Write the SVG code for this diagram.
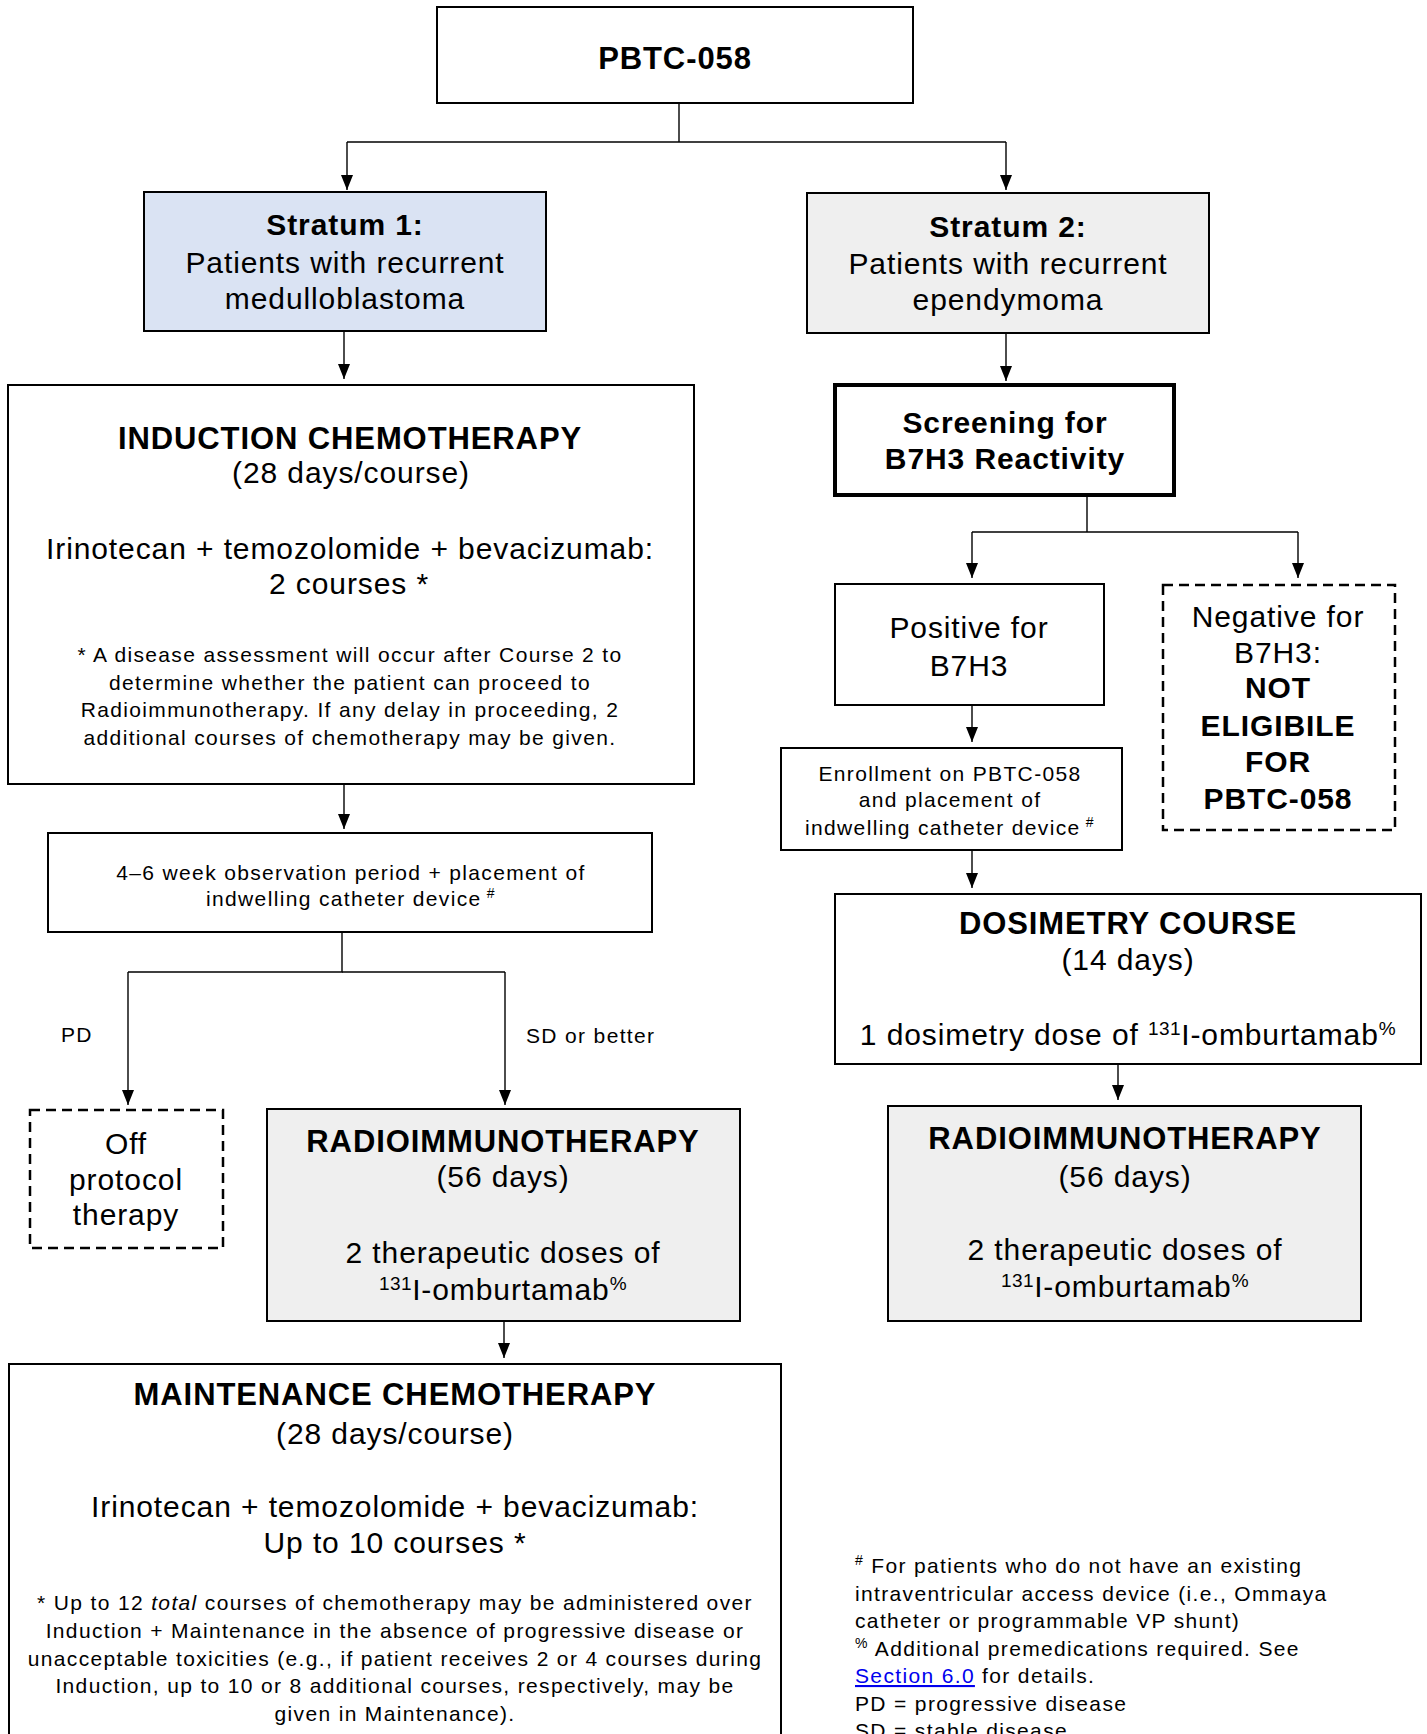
<svg xmlns="http://www.w3.org/2000/svg" width="1427" height="1734" viewBox="0 0 1427 1734">
<defs>
  <marker id="arr" markerWidth="15" markerHeight="12" refX="15" refY="6" orient="auto" markerUnits="userSpaceOnUse" viewBox="0 0 15 12">
    <path d="M0,0 L15,6 L0,12 Z" fill="#000"/>
  </marker>
  <clipPath id="enrollClip"><rect x="781" y="748" width="341" height="91"/></clipPath>
</defs>
<style>
  text { font-family: "Liberation Sans", Arial, sans-serif; fill: #000; }
  .c { text-anchor: middle; }
  .b { font-weight: bold; }
  .t31 { font-size: 31px; letter-spacing: 0.9px; }
  .t30 { font-size: 30px; letter-spacing: 0.9px; }
  .t21 { font-size: 21px; letter-spacing: 1.35px; }
  .box { fill: #fff; stroke: #000; stroke-width: 2; }
  .dash { fill: #fff; stroke: #000; stroke-width: 2.5; stroke-dasharray: 10 6; }
  .grey { fill: #efefef; }
  .blue { fill: #dae3f3; }
  .conn path { fill: none; stroke: #000; stroke-width: 1.4; }
  .sup { font-size: 19px; letter-spacing: 0.5px; }
  .sup2 { font-size: 14px; }
</style>
<rect width="1427" height="1734" fill="#fff"/>

<g class="conn">
  <path d="M679,103 V142"/>
  <path d="M347,142 H1006"/>
  <path d="M347,142 V190" marker-end="url(#arr)"/>
  <path d="M1006,142 V190" marker-end="url(#arr)"/>
  <path d="M344,331 V379" marker-end="url(#arr)"/>
  <path d="M1006,333 V381" marker-end="url(#arr)"/>
  <path d="M344,784 V829" marker-end="url(#arr)"/>
  <path d="M342,932 V972 H128"/>
  <path d="M342,972 H505"/>
  <path d="M128,972 V1105" marker-end="url(#arr)"/>
  <path d="M505,972 V1105" marker-end="url(#arr)"/>
  <path d="M504,1321 V1358" marker-end="url(#arr)"/>
  <path d="M1087,495 V532"/>
  <path d="M972,532 H1298"/>
  <path d="M972,532 V578" marker-end="url(#arr)"/>
  <path d="M1298,532 V578" marker-end="url(#arr)"/>
  <path d="M972,705 V742" marker-end="url(#arr)"/>
  <path d="M972,850 V888" marker-end="url(#arr)"/>
  <path d="M1118,1064 V1100" marker-end="url(#arr)"/>
</g>

<g id="pbtc">
  <rect class="box" x="437" y="7" width="476" height="96"/>
  <text class="c b t31" x="675" y="69">PBTC-058</text>
</g>

<g id="stratum1">
  <rect class="box blue" x="144" y="192" width="402" height="139"/>
  <text class="c b t30" x="345" y="235">Stratum 1:</text>
  <text class="c t30" x="345" y="273">Patients with recurrent</text>
  <text class="c t30" x="345" y="309">medulloblastoma</text>
</g>

<g id="stratum2">
  <rect class="box grey" x="807" y="193" width="402" height="140"/>
  <text class="c b t30" x="1008" y="237">Stratum 2:</text>
  <text class="c t30" x="1008" y="274">Patients with recurrent</text>
  <text class="c t30" x="1008" y="310">ependymoma</text>
</g>

<g id="induction">
  <rect class="box" x="8" y="385" width="686" height="399"/>
  <text class="c b t31" x="350" y="449">INDUCTION CHEMOTHERAPY</text>
  <text class="c t30" x="351" y="483">(28 days/course)</text>
  <text class="c t30" x="350" y="559">Irinotecan + temozolomide + bevacizumab:</text>
  <text class="c t30" x="349" y="594">2 courses *</text>
  <text class="c t21" x="350" y="662">* A disease assessment will occur after Course 2 to</text>
  <text class="c t21" x="350" y="690">determine whether the patient can proceed to</text>
  <text class="c t21" x="350" y="717">Radioimmunotherapy. If any delay in proceeding, 2</text>
  <text class="c t21" x="350" y="745">additional courses of chemotherapy may be given.</text>
</g>

<g id="observation">
  <rect class="box" x="48" y="833" width="604" height="99"/>
  <text class="c t21" x="351" y="880">4–6 week observation period + placement of</text>
  <text class="c t21" x="351" y="906">indwelling catheter device<tspan class="sup2" dy="-8"> #</tspan></text>
</g>

<g id="labels">
  <text class="t21" x="61" y="1042">PD</text>
  <text class="t21" x="526" y="1043">SD or better</text>
</g>

<g id="offprotocol">
  <rect class="dash" x="30" y="1110" width="193" height="138"/>
  <text class="c t30" x="126" y="1154">Off</text>
  <text class="c t30" x="126" y="1190">protocol</text>
  <text class="c t30" x="126" y="1225">therapy</text>
</g>

<g id="radio1">
  <rect class="box grey" x="267" y="1109" width="473" height="212"/>
  <text class="c b t31" x="503" y="1152">RADIOIMMUNOTHERAPY</text>
  <text class="c t30" x="503" y="1187">(56 days)</text>
  <text class="c t30" x="503" y="1263">2 therapeutic doses of</text>
  <text class="c t30" x="503" y="1300"><tspan class="sup" dy="-10">131</tspan><tspan dy="10">I-omburtamab</tspan><tspan class="sup" dy="-10">%</tspan></text>
</g>

<g id="maintenance">
  <rect class="box" x="9" y="1364" width="772" height="390"/>
  <text class="c b t31" x="395" y="1405">MAINTENANCE CHEMOTHERAPY</text>
  <text class="c t30" x="395" y="1444">(28 days/course)</text>
  <text class="c t30" x="395" y="1517">Irinotecan + temozolomide + bevacizumab:</text>
  <text class="c t30" x="395" y="1553">Up to 10 courses *</text>
  <text class="c t21" x="395" y="1610">* Up to 12 <tspan font-style="italic">total</tspan> courses of chemotherapy may be administered over</text>
  <text class="c t21" x="395" y="1638">Induction + Maintenance in the absence of progressive disease or</text>
  <text class="c t21" x="395" y="1666">unacceptable toxicities (e.g., if patient receives 2 or 4 courses during</text>
  <text class="c t21" x="395" y="1693">Induction, up to 10 or 8 additional courses, respectively, may be</text>
  <text class="c t21" x="395" y="1721">given in Maintenance).</text>
</g>

<g id="screening">
  <rect x="835" y="385" width="339" height="110" fill="#fff" stroke="#000" stroke-width="4"/>
  <text class="c b t30" x="1005" y="433">Screening for</text>
  <text class="c b t30" x="1005" y="469">B7H3 Reactivity</text>
</g>

<g id="positive">
  <rect class="box" x="835" y="584" width="269" height="121"/>
  <text class="c t30" x="969" y="638">Positive for</text>
  <text class="c t30" x="969" y="676">B7H3</text>
</g>

<g id="negative">
  <rect class="dash" x="1163" y="585" width="232" height="245"/>
  <text class="c t30" x="1278" y="627">Negative for</text>
  <text class="c t30" x="1278" y="663">B7H3:</text>
  <text class="c b t30" x="1278" y="698">NOT</text>
  <text class="c b t30" x="1278" y="736">ELIGIBILE</text>
  <text class="c b t30" x="1278" y="772">FOR</text>
  <text class="c b t30" x="1278" y="809">PBTC-058</text>
</g>

<g id="enrollment">
  <rect class="box" x="781" y="748" width="341" height="102"/>
  <g clip-path="url(#enrollClip)">
    <text class="c t21" x="950" y="781">Enrollment on PBTC-058</text>
    <text class="c t21" x="950" y="807">and placement of</text>
    <text class="c t21" x="950" y="835">indwelling catheter device<tspan class="sup2" dy="-8"> #</tspan></text>
  </g>
</g>

<g id="dosimetry">
  <rect class="box" x="835" y="894" width="586" height="170"/>
  <text class="c b t31" x="1128" y="934">DOSIMETRY COURSE</text>
  <text class="c t30" x="1128" y="970">(14 days)</text>
  <text class="c t30" x="1128" y="1045">1 dosimetry dose of <tspan class="sup" dy="-10">131</tspan><tspan dy="10">I-omburtamab</tspan><tspan class="sup" dy="-10">%</tspan></text>
</g>

<g id="radio2">
  <rect class="box grey" x="888" y="1106" width="473" height="215"/>
  <text class="c b t31" x="1125" y="1149">RADIOIMMUNOTHERAPY</text>
  <text class="c t30" x="1125" y="1187">(56 days)</text>
  <text class="c t30" x="1125" y="1260">2 therapeutic doses of</text>
  <text class="c t30" x="1125" y="1297"><tspan class="sup" dy="-10">131</tspan><tspan dy="10">I-omburtamab</tspan><tspan class="sup" dy="-10">%</tspan></text>
</g>

<g id="legend">
  <text class="t21" x="855" y="1573"><tspan class="sup2" dy="-8">#</tspan><tspan dy="8"> For patients who do not have an existing</tspan></text>
  <text class="t21" x="855" y="1601">intraventricular access device (i.e., Ommaya</text>
  <text class="t21" x="855" y="1628">catheter or programmable VP shunt)</text>
  <text class="t21" x="855" y="1656"><tspan class="sup2" dy="-8">%</tspan><tspan dy="8"> Additional premedications required. See</tspan></text>
  <text class="t21" x="855" y="1683"><tspan text-decoration="underline" style="fill:#0000ee">Section 6.0</tspan> for details.</text>
  <text class="t21" x="855" y="1711">PD = progressive disease</text>
  <text class="t21" x="855" y="1738">SD = stable disease</text>
</g>
</svg>
